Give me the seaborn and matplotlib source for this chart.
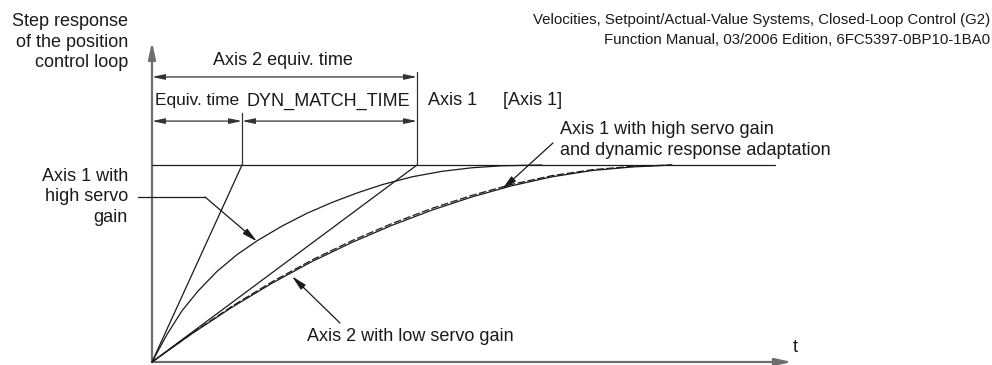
import numpy as np
import pandas as pd
import seaborn as sns
import matplotlib.pyplot as plt
from matplotlib.patches import FancyArrowPatch

sns.set_style('white')
plt.rcParams['font.family'] = ['Liberation Sans', 'DejaVu Sans']

# DATA (time in arbitrary units, response normalised to the setpoint = 1)
fast_t = [0, 0.15, 0.3, 0.46, 0.65, 0.85, 1.05, 1.3, 1.55, 1.8, 2.05, 2.3, 2.6, 2.9, 3.2, 3.5, 3.9]
fast_y = [0, 0.14, 0.26, 0.36, 0.46, 0.545, 0.615, 0.69, 0.755, 0.81, 0.858, 0.9, 0.94, 0.968,
          0.986, 0.996, 1.0]

slow_t = [0, 0.4, 0.8, 1.2, 1.6, 2.0, 2.4, 2.8, 3.2, 3.6, 4.0, 4.4, 4.8, 5.2]
slow_y = [0, 0.144, 0.278, 0.40, 0.51, 0.607, 0.694, 0.771, 0.838, 0.895, 0.94, 0.972, 0.99, 1.0]
adapt_y = [0, 0.146, 0.283, 0.407, 0.518, 0.616, 0.703, 0.78, 0.846, 0.902, 0.946, 0.976, 0.993, 1.0]

equiv_time_1 = 0.90   # Axis 1 equiv. time
equiv_time_2 = 2.65   # Axis 2 equiv. time
setpoint = 1.0
t_end = 6.23

fast = pd.DataFrame({'t': fast_t, 'y': fast_y})
slow = pd.DataFrame({'t': slow_t, 'y': slow_y})
adapt = pd.DataFrame({'t': slow_t, 'y': adapt_y})

# FIGURE
fig = plt.figure(figsize=(9.92, 3.65), dpi=100)
ax = fig.add_axes([0, 0, 1, 1])
ax.set_xlim(-1.52, 8.40)
ax.set_ylim(-0.0152, 1.8376)
ax.axis('off')

ink = '#1a1a1a'
fs = 13
ls = 1.3

# curves
sns.lineplot(data=fast, x='t', y='y', ax=ax, color=ink, lw=0.9, sort=False, estimator=None)
sns.lineplot(data=slow, x='t', y='y', ax=ax, color=ink, lw=0.9, sort=False, estimator=None)
sns.lineplot(data=adapt, x='t', y='y', ax=ax, color=ink, lw=0.9, sort=False, estimator=None,
             linestyle=(0, (6, 2)))

# setpoint and tangents
ax.plot([0, t_end], [setpoint, setpoint], color=ink, lw=0.9)
ax.plot([0, equiv_time_1], [0, setpoint], color=ink, lw=0.9)
ax.plot([0, equiv_time_2], [0, setpoint], color=ink, lw=0.9)

# coordinate axes
axis_col = '#6e6e6e'
ax.add_patch(FancyArrowPatch((0, 0), (0, 1.625), arrowstyle='-|>,head_length=1.0,head_width=0.22',
                             mutation_scale=10, color=axis_col, lw=1.6, shrinkA=0, shrinkB=0))
ax.add_patch(FancyArrowPatch((0, 0), (6.40, 0), arrowstyle='-|>,head_length=1.0,head_width=0.22',
                             mutation_scale=10, color=axis_col, lw=1.6, shrinkA=0, shrinkB=0))

# dimension lines
dim_col = '#333333'
ax.plot([equiv_time_2, equiv_time_2], [setpoint, 1.472], color=dim_col, lw=0.9)
ax.plot([equiv_time_1, equiv_time_1], [setpoint, 1.264], color=dim_col, lw=0.9)


def dim(x0, x1, y):
    ax.add_patch(FancyArrowPatch((x0, y), (x1, y), arrowstyle='<|-|>,head_length=0.75,head_width=0.16',
                                 mutation_scale=10, color=dim_col, lw=0.9, shrinkA=0, shrinkB=0))


dim(0, equiv_time_2, 1.447)
dim(0, equiv_time_1, 1.223)
dim(equiv_time_1, equiv_time_2, 1.223)

ax.text(1.31, 1.533, 'Axis 2 equiv. time', ha='center', va='center', fontsize=fs, color=ink)
ax.text(0.03, 1.325, 'Equiv. time', ha='left', va='center', fontsize=12.4, color=ink)
ax.text(0.94, 1.325, 'DYN_MATCH_TIME', ha='left', va='center', fontsize=fs, color=ink)
ax.text(2.76, 1.325, 'Axis 1', ha='left', va='center', fontsize=fs, color=ink)
ax.text(3.51, 1.325, '[Axis 1]', ha='left', va='center', fontsize=fs, color=ink)

# labels with leaders
arrow_kw = dict(arrowstyle='-|>,head_length=0.9,head_width=0.2', color=ink, lw=0.9,
                mutation_scale=10, shrinkA=0, shrinkB=0)

ax.plot([-0.14, 0.53], [0.838, 0.838], color=ink, lw=0.9)
ax.annotate('', xy=(1.05, 0.612), xytext=(0.53, 0.838), arrowprops=arrow_kw)
ax.text(-0.24, 0.838, 'Axis 1 with\nhigh servo\ngain', ha='right', va='center',
        fontsize=fs, color=ink, linespacing=ls)

ax.annotate('', xy=(1.40, 0.435), xytext=(1.88, 0.198), arrowprops=arrow_kw)
ax.text(1.55, 0.127, 'Axis 2 with low servo gain', ha='left', va='center', fontsize=fs, color=ink)

ax.annotate('', xy=(3.50, 0.876), xytext=(4.01, 1.112), arrowprops=arrow_kw)
ax.text(4.08, 1.129, 'Axis 1 with high servo gain\nand dynamic response adaptation',
        ha='left', va='center', fontsize=fs, color=ink, linespacing=ls)

ax.text(-0.24, 1.624, 'Step response\nof the position\ncontrol loop', ha='right', va='center',
        fontsize=fs, color=ink, linespacing=ls)
ax.text(6.41, 0.076, 't', ha='left', va='center', fontsize=fs, color=ink)

ax.text(8.38, 1.685, 'Velocities, Setpoint/Actual-Value Systems, Closed-Loop Control (G2)\n'
        'Function Manual, 03/2006 Edition, 6FC5397-0BP10-1BA0',
        ha='right', va='center', fontsize=10.85, color=ink, linespacing=1.55)

fig.savefig('out.png', dpi=100)
